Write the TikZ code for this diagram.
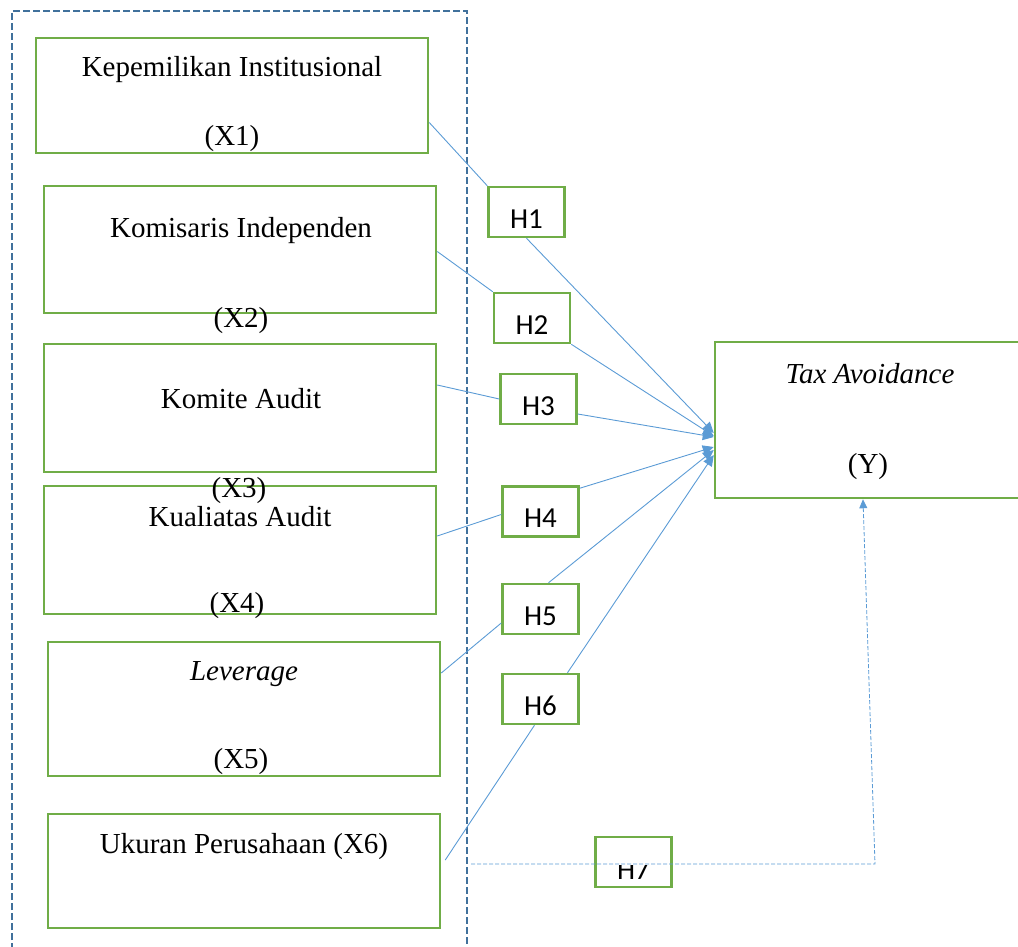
\documentclass[tikz,border=0pt]{standalone}
\usepackage{fontspec}
\setmainfont{Liberation Serif}
\newfontfamily\calfont{Carlito}
\usetikzlibrary{arrows.meta}
\definecolor{boxgreen}{HTML}{70AD47}
\definecolor{linkblue}{HTML}{5B9BD5}
\definecolor{groupblue}{HTML}{41719C}
\begin{document}
\begin{tikzpicture}[x=1pt,y=-1pt]
\tikzset{var/.style = {draw=boxgreen, line width=2.5pt, minimum width=392pt, minimum height=128pt, inner sep=0pt}}
\tikzset{hyp/.style = {draw=boxgreen, line width=2.5pt, fill=white, minimum width=76pt, minimum height=50pt, inner sep=0pt, font=\calfont\fontsize{29}{29}\selectfont, text height=34pt, text depth=2pt}}
\tikzset{txt/.style = {anchor=base, inner sep=0pt, font=\fontsize{29}{30}\selectfont}}
\tikzset{link/.style = {draw=linkblue, line width=0.9pt}}
\tikzset{tip/.style = {-{Triangle[length=11pt,width=10pt]}}}
\useasboundingbox (0,0) rectangle (1018,947);
\draw[groupblue, line width=2pt, dash pattern=on 7pt off 3pt] (12,960) -- (12,11) -- (467,11) -- (467,960);
\node[var, minimum height=115pt] (x1) at (232,95.5) {};
\node[var, minimum height=127pt] (x2) at (240,249.5) {};
\node[var] (x3) at (240,408) {};
\node[var] (x4) at (240,550) {};
\node[var, minimum height=134pt] (x5) at (244,709) {};
\node[var, minimum height=114pt] (x6) at (244,871) {};
\node[var, minimum width=310pt, minimum height=156pt] (y) at (870,420) {};
\node[txt] (t1) at (232,77) {Kepemilikan Institusional};
\node[txt] (t1b) at (232,146) {(X1)};
\node[txt] (t2) at (241,237) {Komisaris Independen};
\node[txt] (t2b) at (241,327) {(X2)};
\node[txt] (t3) at (241,408) {Komite Audit};
\node[txt] (t3b) at (239,497) {(X3)};
\node[txt] (t4) at (240,526) {Kualiatas Audit};
\node[txt] (t4b) at (237,612) {(X4)};
\node[txt] (t5) at (244,680) {\textit{Leverage}};
\node[txt] (t5b) at (241,768) {(X5)};
\node[txt] (t6) at (244,853) {Ukuran Perusahaan (X6)};
\node[txt] (ty) at (870,383) {\textit{Tax Avoidance}};
\node[txt] (tyb) at (868,473) {(Y)};
\node[hyp] (h1) at (526.5,212) {H1};
\node[hyp] (h2) at (532,318) {H2};
\node[hyp] (h3) at (538.5,399) {H3};
\node[hyp] (h4) at (540.5,511.5) {H4};
\node[hyp] (h5) at (540.5,609) {H5};
\node[hyp] (h6) at (540.5,699) {H6};
\node[hyp] (h7) at (633.5,862) {};
\begin{scope}
\clip (596,865) rectangle (671,887);
\node[hyp, draw=none, fill=none, text height=36pt] (h7t) at (633.5,862) {H7};
\end{scope}
\draw[link] ([yshift=-27pt]x1.east) to (h1.north west);
\draw[link, tip] (h1.south) to ([yshift=-13pt]y.west);
\draw[link] ([yshift=-2pt]x2.east) to (h2.north west);
\draw[link, tip] (h2.south east) to ([yshift=-16pt]y.west);
\draw[link] ([yshift=23pt]x3.east) to (h3.west);
\draw[link, tip] ([yshift=-15pt]h3.east) to ([yshift=-17pt]y.west);
\draw[link] ([yshift=14pt]x4.east) to ([yshift=-3pt]h4.west);
\draw[link, tip] ([yshift=-3pt]h4.north east) to ([yshift=-27pt]y.west);
\draw[link] ([yshift=36pt]x5.east) to ([yshift=-14pt]h5.west);
\draw[link, tip] ([xshift=8pt]h5.north) to ([yshift=-30pt]y.west);
\draw[link] ([yshift=11pt,xshift=4pt]x6.east) to ([xshift=-6pt]h6.south);
\draw[link, tip] ([xshift=27pt]h6.north) to ([yshift=-35pt]y.west);
\coordinate (h7from) at (471,864);
\coordinate (h7turn) at (875,864);
\draw[link, line width=0.8pt, dash pattern=on 4pt off 2pt, -{Triangle[length=9pt,width=8pt]}] (h7from) -- (h7turn) -- ([xshift=-7pt]y.south);
\end{tikzpicture}
\end{document}
